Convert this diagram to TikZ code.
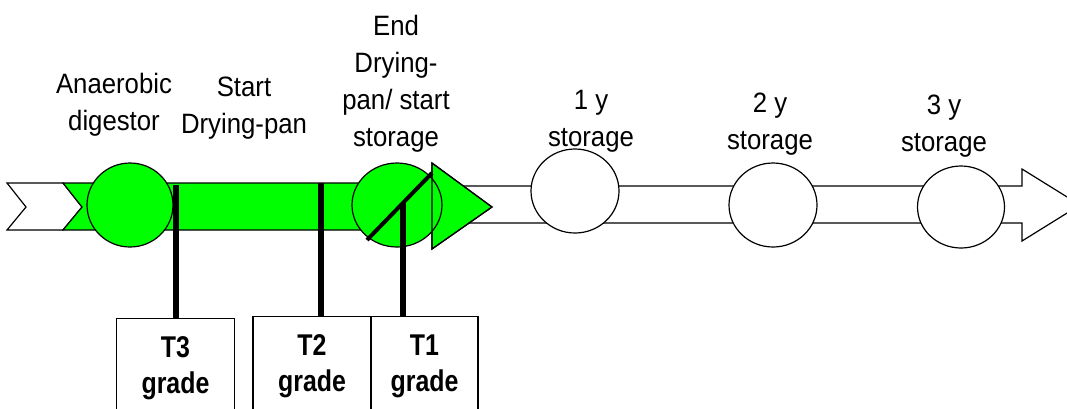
\documentclass[tikz,border=0pt]{standalone}
\usepackage{fontspec}
\setmainfont{Liberation Sans}
\newfontfamily\stagefont[FakeStretch=0.92]{Liberation Sans}
\newfontfamily\gradefont[FakeStretch=0.83]{Liberation Sans}
\usetikzlibrary{shapes.geometric}

\begin{document}
\begin{tikzpicture}[x=1pt, y=-1pt, line width=1.2pt,
    stage/.style={ellipse, draw, fill=white, minimum width=88pt, minimum height=84pt, inner sep=0pt},
    stagetext/.style={anchor=base, align=center, inner sep=0pt, font=\stagefont\fontsize{28}{37}\selectfont},
    gradebox/.style={draw, anchor=north, minimum width=118pt, minimum height=100pt, align=center, font=\gradefont\bfseries\fontsize{30}{36}\selectfont},
    stem/.style={line width=6pt}]
    \clip (0,0) rectangle (1067,408);
    \draw[fill=white] (7,183) -- (63,183) -- (82,207) -- (63,230) -- (7,230) -- (26,207) -- cycle;
    \draw[fill=white] (455,186) -- (1022,186) -- (1022,169) -- (1080,205) -- (1022,241) -- (1022,223) -- (455,223) -- cycle;
    \draw[fill=green] (63,183) -- (432,183) -- (432,163) -- (492,207) -- (432,249) -- (432,230) -- (63,230) -- (82,207) -- cycle;
    \node[stage, fill=green, minimum width=86pt] (digestor) at (130,205) {};
    \node[stage, fill=green, minimum width=90pt] (dryend) at (397,205) {};
    \draw (432,163) -- (492,207) -- (432,249) -- cycle;
    \node[stage] (year1) at (575,191) {};
    \node[stage] (year2) at (773,205) {};
    \node[stage, minimum width=87pt, minimum height=82pt] (year3) at (961,207) {};
    \coordinate (cutlow) at (367,240);
    \coordinate (cuthigh) at (432,173);
    \draw[line width=4pt] (cutlow) -- (cuthigh);
    \node[stagetext] (digestorlabel) at (114,130) {Anaerobic\\digestor};
    \node[stagetext] (drystartlabel) at (244,133) {Start\\Drying-pan};
    \node[stagetext] (dryendlabel) at (396,146) {End\\Drying-\\pan/ start\\storage};
    \node[stagetext] (year1label) at (591,146) {1 y\\storage};
    \node[stagetext] (year2label) at (770,149) {2 y\\storage};
    \node[stagetext] (year3label) at (944,151) {3 y\\storage};
    \node[gradebox] (t3) at (175.5,318) {T3\\grade};
    \node[gradebox] (t2) at (312,316) {T2\\grade};
    \node[gradebox, minimum width=107pt] (t1) at (424.5,316) {T1\\grade};
    \coordinate (t3top) at (176,185);
    \coordinate (t2top) at (321,183);
    \coordinate (t1top) at (403,203);
    \draw[stem] (t3top) -- (t3top |- t3.north);
    \draw[stem] (t2top) -- (t2top |- t2.north);
    \draw[stem] (t1top) -- (t1top |- t1.north);
\end{tikzpicture}
\end{document}
